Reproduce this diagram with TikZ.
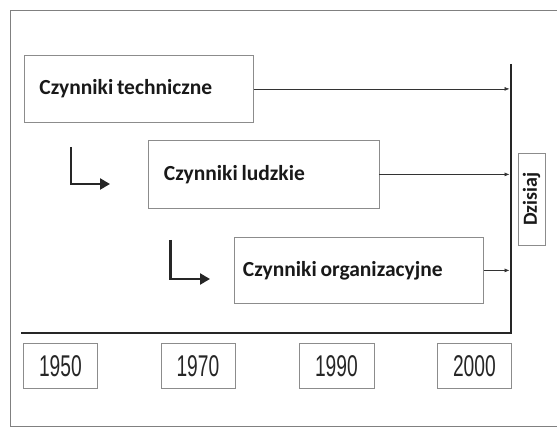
\documentclass[tikz,border=0pt]{standalone}
\usepackage{fontspec}
\usepackage{graphicx}
\setmainfont{Carlito}
\newfontfamily\yearfont{Liberation Sans}
\usetikzlibrary{arrows.meta}
\newcommand{\yeartext}[1]{\yearfont\fontsize{30}{31}\selectfont\scalebox{0.64}[1]{#1}}
\newcommand{\tightsp}{\spaceskip=3.7pt\relax}
\begin{document}
\begin{tikzpicture}[x=1pt,y=-1pt,
  factor/.style={draw=black!45, line width=0.8pt, fill=white,
    font=\bfseries\fontsize{21.5}{25}\selectfont, text=black!90,
    align=left, anchor=north west, minimum height=67pt},
  yearbox/.style={draw=black!45, line width=0.8pt, minimum width=74pt,
    minimum height=45pt, anchor=north west, inner sep=0pt, text=black!85},
  flow/.style={-{Latex[length=5pt,width=4pt]}, line width=0.6pt, black!80},
  axis/.style={line width=2pt, black!85},
  turn/.style={-{Triangle[length=10pt,width=11pt]}, line width=2.3pt, black!85},
  frame/.style={draw=black!50, line width=0.9pt}]
\useasboundingbox (0,0) rectangle (557,427);
% outer frame
\draw[frame] (557,10.5) -- (10,10.5) -- (10,426) -- (557,426);
% factor boxes
\node[factor, inner xsep=15pt, text width=199pt] (t1) at (24,55) {\tightsp Czynniki techniczne};
\node[factor, inner xsep=16pt, text width=199pt, minimum height=68pt] (t2) at (147.5,140) {\tightsp Czynniki ludzkie};
\node[factor, inner xsep=9pt, text width=231.5pt, minimum height=66pt] (t3) at (233.5,237) {\tightsp Czynniki organizacyjne};
% axes
\coordinate (vtop) at (511,64);
\coordinate (corner) at (511,333);
\coordinate (hleft) at (21,333);
\draw[axis] (vtop) -- (corner) -- (hleft);
\coordinate (axisx) at (509.5,0);
% flows to today
\draw[flow] (t1.east) -- (t1.east -| axisx);
\draw[flow] (t2.east) -- (t2.east -| axisx);
\draw[flow] (t3.east) -- (t3.east -| axisx);
% turn arrows
\coordinate (a1s) at (71,147);
\coordinate (a1e) at (110,184);
\draw[turn] (a1s) |- (a1e);
\coordinate (a2s) at (170.5,240);
\coordinate (a2e) at (210,279);
\draw[turn] (a2s) |- (a2e);
% today box
\node[draw=black!45, line width=0.8pt, rotate=90, minimum width=92pt, minimum height=27pt,
  inner sep=0pt, font=\bfseries\fontsize{20}{23}\selectfont, text=black!90] (today) at (531.5,199) {Dzisiaj};
% year boxes
\node[yearbox] (y1950) at (23,343) {\yeartext{1950}};
\node[yearbox] (y1970) at (160.5,343) {\yeartext{1970}};
\node[yearbox, minimum width=75pt] (y1990) at (298.5,343) {\yeartext{1990}};
\node[yearbox] (y2000) at (437,343) {\yeartext{2000}};
\end{tikzpicture}
\end{document}
